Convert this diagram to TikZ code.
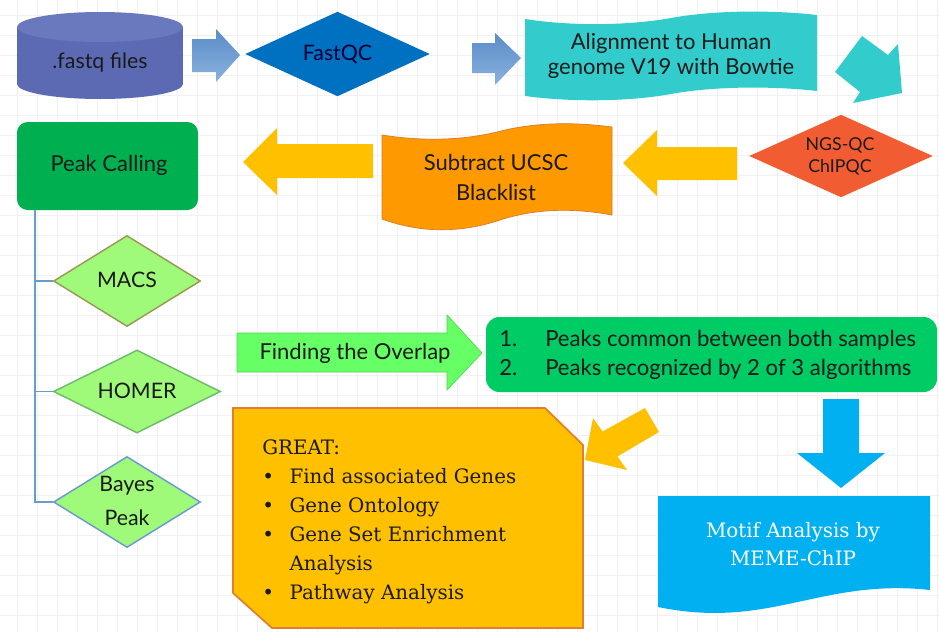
\documentclass[tikz,border=0pt]{standalone}
\usepackage{fontspec}
\usetikzlibrary{shapes.geometric}
\newfontfamily\labfont{Lato}
\newfontfamily\serfont{DejaVu Serif}
\definecolor{gridc}{HTML}{F1F1F1}
\definecolor{txt}{HTML}{1A1A1A}
\definecolor{cylc}{HTML}{5B6AB3}
\definecolor{cyltop}{HTML}{6A78BE}
\definecolor{barrowA}{HTML}{5A8CC8}
\definecolor{barrowB}{HTML}{8AB2DD}
\definecolor{fastqc}{HTML}{0070C0}
\definecolor{tealc}{HTML}{33CCCC}
\definecolor{ngsc}{HTML}{F25C32}
\definecolor{yellc}{HTML}{FFC000}
\definecolor{orangec}{HTML}{FF9900}
\definecolor{orangebd}{HTML}{D9782A}
\definecolor{peakc}{HTML}{00B050}
\definecolor{treec}{HTML}{6A9BD0}
\definecolor{lgreen}{HTML}{A0FA7A}
\definecolor{macsbd}{HTML}{9A9A55}
\definecolor{homerbd}{HTML}{6DBB6D}
\definecolor{overc}{HTML}{66FF66}
\definecolor{overbd}{HTML}{4CD94C}
\definecolor{listc}{HTML}{00CC66}
\definecolor{greatbd}{HTML}{E0802C}
\definecolor{skyc}{HTML}{00B0F0}
\newcommand\greatbul{\makebox[20.5pt][l]{•}}
\newcommand\listnum[1]{\makebox[34.5pt][l]{#1}}
\begin{document}
\begin{tikzpicture}[x=0.75pt,y=-0.75pt,
  lbl/.style={font=\labfont\fontsize{16}{19}\selectfont, text=txt, align=center, inner sep=0pt},
  gridline/.style={draw=gridc, line width=0.5pt},
  dia/.style={diamond, inner sep=0pt, line width=1.1pt},
  treeline/.style={draw=treec, line width=1.3pt},
  serlbl/.style={font=\serfont\fontsize{14.9}{21.75}\selectfont, text=txt, align=left, inner sep=0pt}]
\useasboundingbox (0,0) rectangle (939,632);
\fill[white] (0,0) rectangle (939,632);
\foreach \i in {17,37,...,937} \draw[gridline] (\i,0) -- (\i,632);
\foreach \j in {15,35,...,615} \draw[gridline] (0,\j) -- (939,\j);

% cylinder
\fill[cylc] (17,27) rectangle (183,84);
\fill[cylc] (100,84) ellipse [x radius=83, y radius=15];
\fill[cyltop] (100,27) ellipse [x radius=83, y radius=15];
\node[lbl] (fastq) at (100,62) {.fastq files};

% blue arrows
\shade[top color=barrowA, bottom color=barrowB] (192,39) -- (216,39) -- (216,29) -- (240,55) -- (216,82) -- (216,72) -- (192,72) -- cycle;
\shade[top color=barrowA, bottom color=barrowB] (472,43) -- (495,43) -- (495,33) -- (521,58) -- (495,85) -- (495,73) -- (472,73) -- cycle;

% FastQC
\node[dia, fill=fastqc, minimum width=138.75pt, minimum height=63.75pt] (fastqcd) at (337.5,54) {};
\node[lbl, text=black!80!blue] (fastqct) at (fastqcd) {FastQC};

% Alignment
\fill[tealc] (525,19) .. controls (569,26) and (627,26) .. (671,18) .. controls (715,10) and (773,10) .. (817,15)
  -- (817,91) .. controls (773,86) and (715,86) .. (671,94) .. controls (627,102) and (569,102) .. (525,96) -- cycle;
\node[lbl, font=\labfont\fontsize{16.5}{19}\selectfont] (align) at (671,56) {Alignment to Human\\genome V19 with Bowtie};

% teal bent arrow
\fill[tealc] (835,72) -- (862,36) -- (888,55) -- (898,44) -- (902,93) -- (853,103) -- (860,92) -- cycle;

% NGS-QC
\node[dia, fill=ngsc, minimum width=138pt, minimum height=62.25pt] (ngsd) at (841,156) {};
\node[lbl, font=\labfont\fontsize{13.3}{16.5}\selectfont] (ngst) at (840,156) {NGS-QC\\ChIPQC};

% yellow arrows
\fill[yellc] (737,147) -- (657,147) -- (657,130) -- (623,163) -- (657,196) -- (657,180) -- (737,180) -- cycle;
\fill[yellc] (373,144) -- (277,144) -- (277,128) -- (243,162) -- (277,195) -- (277,178) -- (373,178) -- cycle;

% Subtract
\filldraw[fill=orangec, draw=orangebd, line width=0.5pt] (382,135) .. controls (420,141) and (459,141) .. (497,132) .. controls (535,122) and (574,122) .. (612,127)
  -- (612,215) .. controls (574,208) and (535,208) .. (497,221) .. controls (459,233) and (420,233) .. (382,219) -- cycle;
\node[lbl, font=\labfont\fontsize{16.5}{22.5}\selectfont] (subtr) at (496,177) {Subtract UCSC\\Blacklist};

% Peak calling
\fill[peakc, rounded corners=8pt] (17,122) rectangle (198,210);
\node[lbl, font=\labfont\fontsize{16.5}{19}\selectfont] (peak) at (109,165) {Peak Calling};

% diamonds
\node[dia, fill=lgreen, draw=macsbd, minimum width=110.25pt, minimum height=68.25pt] (macs) at (127,281) {};
\node[lbl] (macst) at (127,280) {MACS};
\node[dia, fill=lgreen, draw=homerbd, minimum width=125.25pt, minimum height=62.25pt] (homer) at (137,391.5) {};
\node[lbl] (homert) at (137,391) {HOMER};
\node[dia, fill=lgreen, draw=treec, minimum width=110.25pt, minimum height=68.25pt] (bayes) at (127,502) {};
\node[lbl, font=\labfont\fontsize{16}{26}\selectfont] (bayest) at (127,501) {Bayes\\Peak};

% tree
\coordinate (trunk) at (35,210);
\draw[treeline] (trunk) |- (macs.west);
\draw[treeline] (trunk) |- (homer.west);
\draw[treeline] (trunk) |- (bayes.west);

% Finding the overlap
\filldraw[fill=overc, draw=overbd, line width=0.5pt] (237,333) -- (447,333) -- (447,315) -- (482,353) -- (447,390) -- (447,372) -- (237,372) -- cycle;
\node[lbl, font=\labfont\fontsize{16.5}{19}\selectfont] (overlap) at (355,353) {Finding the Overlap};

% list box
\fill[listc, rounded corners=10pt] (486,317) rectangle (937,392);
\node[lbl, align=left, anchor=west, font=\labfont\fontsize{16.6}{21.75}\selectfont] (list) at (499,355) {\listnum{1.}Peaks common between both samples\\\listnum{2.}Peaks recognized by 2 of 3 algorithms};

% GREAT box
\filldraw[fill=yellc, draw=greatbd, line width=1.3pt] (233,408) -- (545,408) -- (583,445) -- (583,628) -- (272,628) -- (233,593) -- cycle;
\node[serlbl, anchor=north west] (great) at (262,439) {GREAT:\\\greatbul Find associated Genes\\\greatbul Gene Ontology\\\greatbul Gene Set Enrichment\\\hspace*{20.5pt}Analysis\\\greatbul Pathway Analysis};

% diagonal yellow arrow
\fill[yellc] (645,408) -- (602.6,431.5) -- (593,418) -- (585,460) -- (627,470) -- (617.4,456.5) -- (659,432) -- cycle;

% blue down arrow
\fill[skyc] (823,399) -- (859,399) -- (859,453) -- (885,453) -- (841,488) -- (797,453) -- (823,453) -- cycle;

% Motif
\fill[skyc] (658,496) -- (930,496) -- (930,590) .. controls (820,578) and (770,630) .. (658,607) -- cycle;
\node[lbl, text=white, font=\serfont\fontsize{14.9}{21.5}\selectfont] (motif) at (793,544) {Motif Analysis by\\MEME-ChIP};
\end{tikzpicture}
\end{document}
